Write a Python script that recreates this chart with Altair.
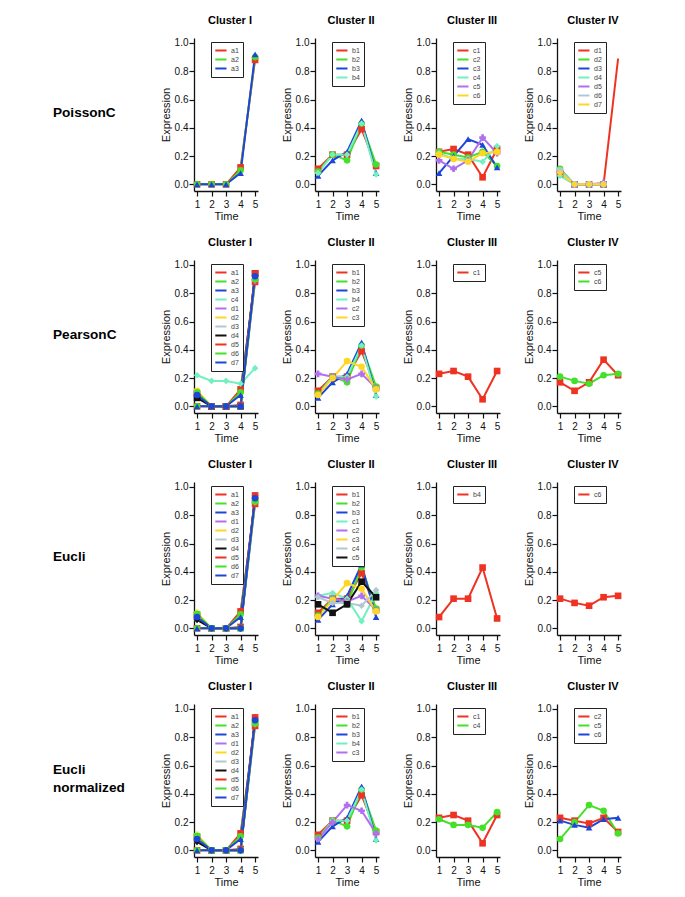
import altair as alt
import pandas as pd

TIME = [1, 2, 3, 4, 5]

# expression profiles
a1 = [0.00, 0.00, 0.00, 0.12, 0.88]
a2 = [0.00, 0.00, 0.00, 0.10, 0.90]
a3 = [0.00, 0.00, 0.00, 0.08, 0.92]
b1 = [0.11, 0.21, 0.21, 0.39, 0.13]
b2 = [0.09, 0.21, 0.17, 0.43, 0.14]
b3 = [0.06, 0.17, 0.23, 0.45, 0.08]
b4 = [0.08, 0.21, 0.21, 0.43, 0.07]
c1 = [0.23, 0.25, 0.21, 0.05, 0.25]
c2 = [0.23, 0.21, 0.19, 0.23, 0.13]
c3 = [0.08, 0.20, 0.32, 0.28, 0.12]
c4 = [0.22, 0.18, 0.18, 0.16, 0.27]
c5 = [0.17, 0.11, 0.17, 0.33, 0.22]
c6 = [0.21, 0.18, 0.16, 0.22, 0.23]
c5_norm = [0.08, 0.20, 0.32, 0.28, 0.12]
d1 = [0.08, 0.00, 0.00, 0.00, 0.89]
d2 = [0.11, 0.00, 0.00, 0.00, 0.90]
d3 = [0.07, 0.00, 0.00, 0.00, 0.93]
d4 = [0.06, 0.00, 0.00, 0.00, 0.94]
d5 = [0.09, 0.00, 0.00, 0.01, 0.94]
d6 = [0.10, 0.00, 0.00, 0.00, 0.90]
d7 = [0.08, 0.00, 0.00, 0.00, 0.92]

METHODS = ["PoissonC", "PearsonC", "Eucli", "Eucli\nnormalized"]
CLUSTERS = ["Cluster I", "Cluster II", "Cluster III", "Cluster IV"]

R, G, B, AQ, PU, YE, LB, BK = ("#ee3322", "#44e02a", "#1f45d8", "#72f0c0",
                               "#b070ee", "#ffd624", "#b0c8d4", "#111111")

PANELS = [
    [  # PoissonC
        [("a1", a1), ("a2", a2), ("a3", a3)],
        [("b1", b1), ("b2", b2), ("b3", b3), ("b4", b4)],
        [("c1", c1), ("c2", c2), ("c3", c3), ("c4", c4), ("c5", c5), ("c6", c6)],
        [("d1", d1), ("d2", d2[:4]), ("d3", d3[:4]), ("d4", d4[:4]),
         ("d5", d5[:4]), ("d6", d6[:4]), ("d7", d7[:4])],
    ],
    [  # PearsonC
        [("a1", a1), ("a2", a2), ("a3", a3), ("c4", c4), ("d1", d1), ("d2", d2),
         ("d3", d3), ("d4", d4), ("d5", d5), ("d6", d6), ("d7", d7)],
        [("b1", b1), ("b2", b2), ("b3", b3), ("b4", b4), ("c2", c2), ("c3", c3)],
        [("c1", c1)],
        [("c5", c5), ("c6", c6)],
    ],
    [  # Eucli
        [("a1", a1), ("a2", a2), ("a3", a3), ("d1", d1), ("d2", d2),
         ("d3", d3), ("d4", d4), ("d5", d5), ("d6", d6), ("d7", d7)],
        [("b1", b1), ("b2", b2), ("b3", b3), ("c1", c1), ("c2", c2),
         ("c3", c3), ("c4", c4), ("c5", c5)],
        [("b4", b4)],
        [("c6", c6)],
    ],
    [  # Eucli normalized
        [("a1", a1), ("a2", a2), ("a3", a3), ("d1", d1), ("d2", d2),
         ("d3", d3), ("d4", d4), ("d5", d5), ("d6", d6), ("d7", d7)],
        [("b1", b1), ("b2", b2), ("b3", b3), ("b4", b4), ("c3", c3)],
        [("c1", c1), ("c4", c4)],
        [("c2", c2), ("c5", c5_norm), ("c6", c6)],
    ],
]

COLORS = [
    [[R, G, B], [R, G, B, AQ], [R, G, B, AQ, PU, YE], [R, G, B, AQ, PU, LB, YE]],
    [[R, G, B, AQ, PU, YE, LB, BK, R, G, B], [R, G, B, AQ, PU, YE], [R], [R, G]],
    [[R, G, B, PU, YE, LB, BK, R, G, B], [R, G, B, AQ, PU, YE, LB, BK], [R], [R]],
    [[R, G, B, PU, YE, LB, BK, R, G, B], [R, G, B, AQ, PU], [R, G], [R, G, B]],
]

SHAPES = ["square", "circle", "triangle-up", "diamond", "cross", "circle",
          "diamond", "square", "square", "circle", "circle"]

NO_MARKER = {("PoissonC", "Cluster IV", "d1", 5)}

FONT = "Liberation Sans"
Y_TICKS = [0.0, 0.2, 0.4, 0.6, 0.8, 1.0]
LABEL_LINE_H = 18


def panel(mi, ci):
    series = PANELS[mi][ci]
    names = [n for n, _ in series]
    cols = COLORS[mi][ci]
    recs = []
    for n, vals in series:
        for t, v in zip(TIME, vals):
            mk = 0 if (METHODS[mi], CLUSTERS[ci], n, t) in NO_MARKER else 1
            recs.append({"gene": n, "time": t, "expr": v, "mk": mk})
    df = pd.DataFrame(recs)
    x = alt.X("time:Q", scale=alt.Scale(domain=[0.79, 5.2], nice=False, zero=False),
              axis=alt.Axis(values=TIME, format="d", title="Time", labelAngle=0,
                            labelPadding=3, titlePadding=1))
    y = alt.Y("expr:Q", scale=alt.Scale(domain=[-0.047, 1.035], nice=False, zero=False),
              axis=alt.Axis(values=Y_TICKS, format=".1f", title="Expression"))
    leg = alt.Legend(title=None, orient="none", legendX=17, legendY=4,
                     symbolType="M-1.2,0L2,0", symbolSize=49, symbolStrokeWidth=2,
                     labelFont=FONT, labelFontSize=7, labelColor="#444",
                     labelOffset=7, rowPadding=0, padding=4,
                     strokeColor="#222", fillColor="white", cornerRadius=0)
    line = alt.Chart(df).mark_line(strokeWidth=2).encode(
        x=x, y=y, color=alt.Color("gene:N", scale=alt.Scale(domain=names, range=cols), legend=leg))
    layers = [line]
    for k, n in enumerate(names):
        layers.append(
            alt.Chart(df).transform_filter(
                (alt.datum.gene == n) & (alt.datum.mk == 1)
            ).mark_point(filled=True, size=44, opacity=1, strokeWidth=0,
                         fill=cols[k], shape=SHAPES[k]).encode(x=x, y=y))
    return alt.layer(*layers).properties(
        width=64, height=153,
        title=alt.TitleParams(CLUSTERS[ci], frame="group", dx=4, offset=12))


def label_chart(mi):
    label = METHODS[mi]
    n_lines = label.count("\n") + 1
    df = pd.DataFrame({"label": [label]})
    return alt.Chart(df).mark_text(
        align="left", baseline="middle", font=FONT, fontSize=13.6, fontWeight="bold",
        lineBreak="\n", lineHeight=LABEL_LINE_H, color="black").encode(
        text="label:N", x=alt.value(45),
        y=alt.value(75 - (n_lines - 1) * LABEL_LINE_H / 2)).properties(width=131, height=153)


rows = []
for mi in range(4):
    rows.append(alt.hconcat(label_chart(mi), *[panel(mi, ci) for ci in range(4)],
                            spacing=21).resolve_scale(color="independent"))

chart = alt.vconcat(*rows, spacing=15).resolve_scale(color="independent").properties(
    padding={"top": 6, "left": 0, "right": 0, "bottom": 0}
).configure_view(stroke=None).configure_axis(
    domainColor="#111", domainWidth=1.3, tickColor="#111", tickWidth=1.2, tickSize=5,
    labelFont=FONT, labelFontSize=10, labelColor="#111", labelPadding=1,
    titleFont=FONT, titleFontSize=11, titleFontWeight="normal", titleColor="#111",
    titlePadding=3, grid=False
).configure_title(font=FONT, fontSize=11, fontWeight="bold", color="black")

chart.save("out.html", embed_options={"renderer": "svg", "actions": False})
